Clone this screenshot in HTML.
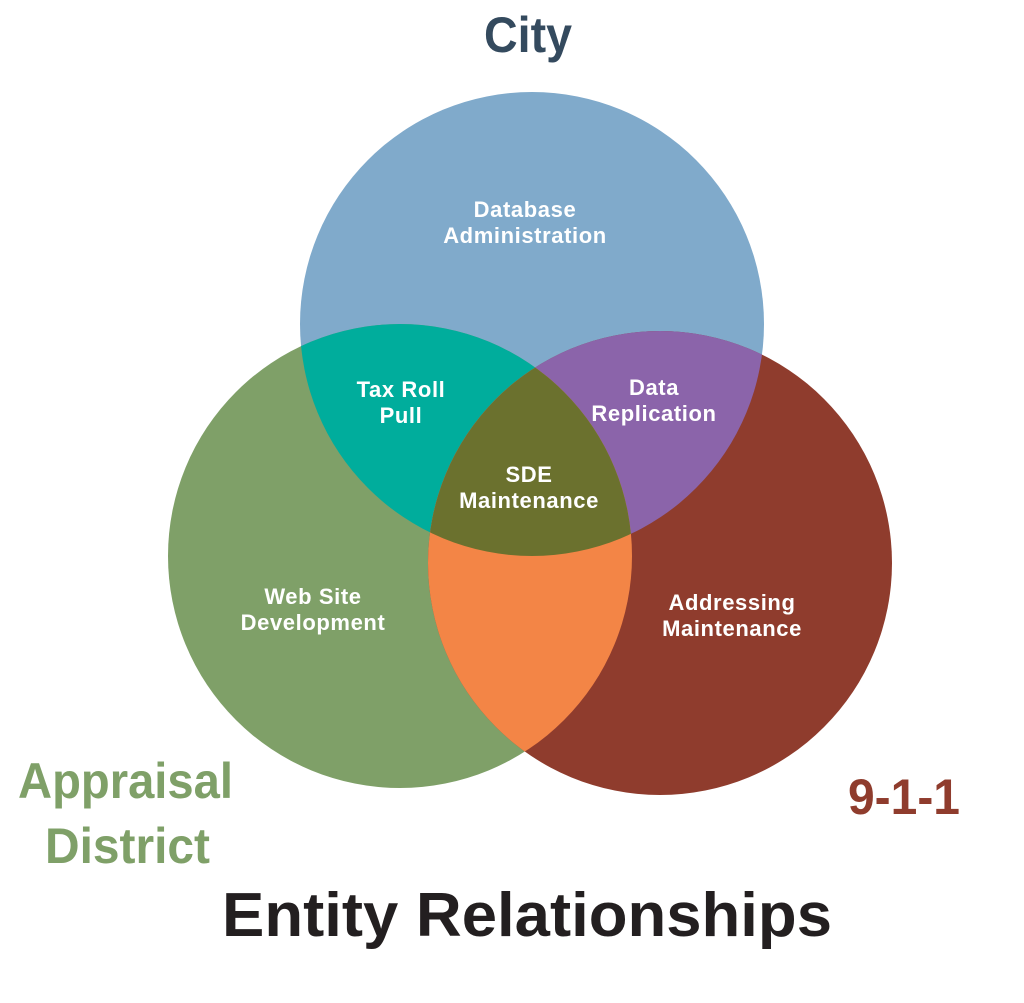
<!DOCTYPE html>
<html><head><meta charset="utf-8"><style>
html,body{margin:0;padding:0;background:#fff;}
svg{display:block;}
text{font-family:"Liberation Sans",sans-serif;font-weight:bold;}
</style></head><body>
<svg width="1024" height="1003" viewBox="0 0 1024 1003" xmlns="http://www.w3.org/2000/svg">
<defs>
<clipPath id="cB"><circle cx="532" cy="324" r="232"/></clipPath>
<clipPath id="cG"><circle cx="400" cy="556" r="232"/></clipPath>
<clipPath id="cR"><circle cx="660" cy="563" r="232"/></clipPath>
</defs>
<circle cx="532" cy="324" r="232" fill="#80AACB"/>
<circle cx="400" cy="556" r="232" fill="#7FA068"/>
<circle cx="660" cy="563" r="232" fill="#8F3C2D"/>
<circle cx="400" cy="556" r="232" fill="#00AD9C" clip-path="url(#cB)"/>
<circle cx="660" cy="563" r="232" fill="#8B64AA" clip-path="url(#cB)"/>
<circle cx="660" cy="563" r="232" fill="#F38546" clip-path="url(#cG)"/>
<g clip-path="url(#cB)"><circle cx="660" cy="563" r="232" fill="#6B712E" clip-path="url(#cG)"/></g>

<g fill="#fff" font-size="22" text-anchor="middle" letter-spacing="0.6">
<text x="525" y="217">Database</text>
<text x="525" y="243">Administration</text>
<text x="401" y="397">Tax Roll</text>
<text x="401" y="423">Pull</text>
<text x="654" y="395">Data</text>
<text x="654" y="421">Replication</text>
<text x="529" y="482">SDE</text>
<text x="529" y="508">Maintenance</text>
<text x="313" y="604">Web Site</text>
<text x="313" y="630">Development</text>
<text x="732" y="610">Addressing</text>
<text x="732" y="636">Maintenance</text>
</g>
<text x="484" y="52" font-size="50" fill="#344A5E" textLength="88" lengthAdjust="spacingAndGlyphs">City</text>
<text x="18" y="798" font-size="50" fill="#7FA068" textLength="215" lengthAdjust="spacingAndGlyphs">Appraisal</text>
<text x="45" y="863" font-size="50" fill="#7FA068" textLength="165" lengthAdjust="spacingAndGlyphs">District</text>
<text x="848" y="814" font-size="50" fill="#8F3C2D" textLength="112" lengthAdjust="spacingAndGlyphs">9-1-1</text>
<text x="222" y="936" font-size="62" fill="#231F20" textLength="610" lengthAdjust="spacingAndGlyphs">Entity Relationships</text>
</svg>
</body></html>
